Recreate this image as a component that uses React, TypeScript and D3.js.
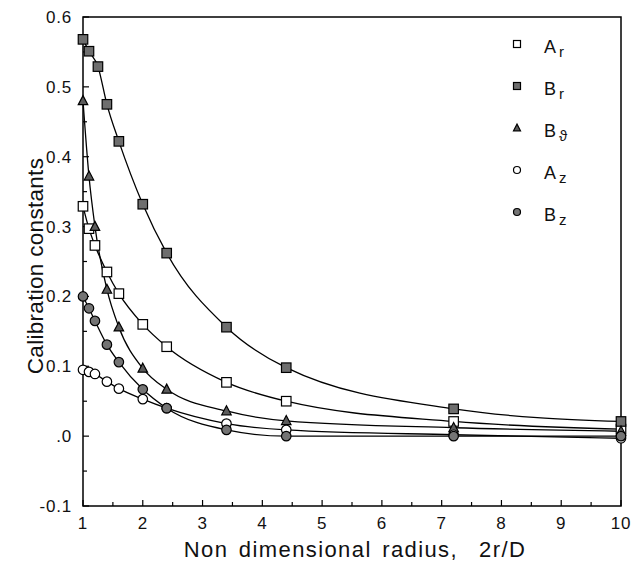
import React from "react";
import * as d3 from "d3";

const xTicks = [1, 2, 3, 4, 5, 6, 7, 8, 9, 10];
const yTicks = [-0.1, 0, 0.1, 0.2, 0.3, 0.4, 0.5, 0.6];
const yTickLabels = ["-0.1", ".0", "0.1", "0.2", "0.3", "0.4", "0.5", "0.6"];

const xAr = [1.0, 1.1, 1.2, 1.4, 1.6, 2.0, 2.4, 3.4, 4.4, 7.2, 10];
const yAr = [0.329, 0.297, 0.273, 0.235, 0.204, 0.16, 0.128, 0.077, 0.05, 0.021, 0.01];

const xBr = [1.0, 1.1, 1.25, 1.4, 1.6, 2.0, 2.4, 3.4, 4.4, 7.2, 10];
const yBr = [0.568, 0.551, 0.529, 0.475, 0.422, 0.332, 0.262, 0.156, 0.098, 0.039, 0.021];

const xBt = [1.0, 1.1, 1.2, 1.4, 1.6, 2.0, 2.4, 3.4, 4.4, 7.2, 10];
const yBt = [0.48, 0.372, 0.3, 0.21, 0.156, 0.097, 0.067, 0.036, 0.022, 0.012, 0.007];

const xAz = [1.0, 1.1, 1.2, 1.4, 1.6, 2.0, 2.4, 3.4, 4.4, 7.2, 10];
const yAz = [0.095, 0.092, 0.089, 0.078, 0.068, 0.053, 0.04, 0.018, 0.009, 0.002, -0.003];

const xBz = [1.0, 1.1, 1.2, 1.4, 1.6, 2.0, 2.4, 3.4, 4.4, 7.2, 10];
const yBz = [0.2, 0.183, 0.165, 0.131, 0.106, 0.067, 0.04, 0.009, 0.0, 0.0, 0.0];

type Shape = "square" | "triangle" | "circle";
const seriesDefs = [
  { name: "A", sub: "r", xs: xAr, ys: yAr, shape: "square" as Shape, fill: "#ffffff" },
  { name: "B", sub: "r", xs: xBr, ys: yBr, shape: "square" as Shape, fill: "#6e6e6e" },
  { name: "B", sub: "ϑ", xs: xBt, ys: yBt, shape: "triangle" as Shape, fill: "#5a5a5a" },
  { name: "A", sub: "z", xs: xAz, ys: yAz, shape: "circle" as Shape, fill: "#ffffff" },
  { name: "B", sub: "z", xs: xBz, ys: yBz, shape: "circle" as Shape, fill: "#747474" },
];

const FONT = "'Liberation Sans', Arial, Helvetica, sans-serif";

function Marker({ shape, x, y, fill, size }: { shape: Shape; x: number; y: number; fill: string; size: number }) {
  const h = size / 2;
  if (shape === "square") {
    return <rect x={x - h} y={y - h} width={size} height={size} fill={fill} stroke="#000" strokeWidth={1.2} />;
  }
  if (shape === "triangle") {
    return (
      <path
        d={`M${x},${y - h * 1.1} L${x + h},${y + h * 0.8} L${x - h},${y + h * 0.8} Z`}
        fill={fill}
        stroke="#000"
        strokeWidth={1.2}
      />
    );
  }
  return <circle cx={x} cy={y} r={h} fill={fill} stroke="#000" strokeWidth={1.2} />;
}

export default function App() {
  const W = 633;
  const H = 565;
  const x = d3.scaleLinear().domain([1, 10]).range([83, 621]);
  const y = d3.scaleLinear().domain([-0.1, 0.6]).range([506, 17]);

  const line = d3
    .line<[number, number]>()
    .x((d) => x(d[0]))
    .y((d) => y(d[1]))
    .curve(d3.curveMonotoneX);

  const xMinor = d3.range(1, 10.01, 0.5);
  const yMinor = d3.range(-0.1, 0.601, 0.05);

  const legendY = [44, 86, 128, 170, 212];

  return (
    <svg
      width={W}
      height={H}
      style={{ position: "absolute", left: 0, top: 0, background: "#fff" }}
      fontFamily={FONT}
    >
      <rect x={0} y={0} width={W} height={H} fill="#fff" />
      {/* frame */}
      <rect x={x(1)} y={y(0.6)} width={x(10) - x(1)} height={y(-0.1) - y(0.6)} fill="none" stroke="#000" strokeWidth={1.5} />
      {/* x ticks */}
      {xMinor.map((v, i) => {
        const major = Math.abs(v - Math.round(v)) < 1e-6;
        return (
          <line key={"xt" + i} x1={x(v)} x2={x(v)} y1={y(-0.1)} y2={y(-0.1) - (major ? 6 : 4)} stroke="#000" strokeWidth={1.2} />
        );
      })}
      {yMinor.map((v, i) => {
        const major = i % 2 === 0;
        return (
          <line key={"yt" + i} x1={x(1)} x2={x(1) + (major ? 6 : 4)} y1={y(v)} y2={y(v)} stroke="#000" strokeWidth={1.2} />
        );
      })}
      {xTicks.map((v) => (
        <text key={"xl" + v} x={x(v)} y={529} textAnchor="middle" fontSize={17} letterSpacing={0.8} fill="#111">
          {v}
        </text>
      ))}
      {yTicks.map((v, i) => (
        <text key={"yl" + i} x={x(1) - 11} y={y(v) + 6} textAnchor="end" fontSize={17} letterSpacing={0.8} fill="#111">
          {yTickLabels[i]}
        </text>
      ))}
      <text
        x={355}
        y={557}
        textAnchor="middle"
        fontSize={22}
        letterSpacing={1.4}
        wordSpacing={3}
        fill="#111"
        style={{ whiteSpace: "pre" }}
      >
        {"Non dimensional radius,  2r/D"}
      </text>
      <text
        transform={`translate(43, ${266}) rotate(-90)`}
        textAnchor="middle"
        fontSize={22.5}
        letterSpacing={0.3}
        fill="#111"
      >
        Calibration constants
      </text>
      {/* curves */}
      {seriesDefs.map((s, i) => (
        <path
          key={"c" + i}
          d={line(s.xs.map((xv, j) => [xv, s.ys[j]] as [number, number])) || ""}
          fill="none"
          stroke="#000"
          strokeWidth={1.3}
        />
      ))}
      {/* markers */}
      {seriesDefs.map((s, i) => (
        <g key={"m" + i}>
          {s.xs.map((xv, j) => (
            <Marker key={j} shape={s.shape} x={x(xv)} y={y(s.ys[j])} fill={s.fill} size={9.5} />
          ))}
        </g>
      ))}
      {/* legend */}
      {seriesDefs.map((s, i) => (
        <g key={"lg" + i}>
          <Marker shape={s.shape} x={517} y={legendY[i]} fill={s.fill} size={7} />
          <text x={544} y={legendY[i] + 9} fontSize={18} fill="#111">
            {s.name}
            <tspan dx={3} dy={4} fontSize={15}>
              {s.sub}
            </tspan>
          </text>
        </g>
      ))}
    </svg>
  );
}
